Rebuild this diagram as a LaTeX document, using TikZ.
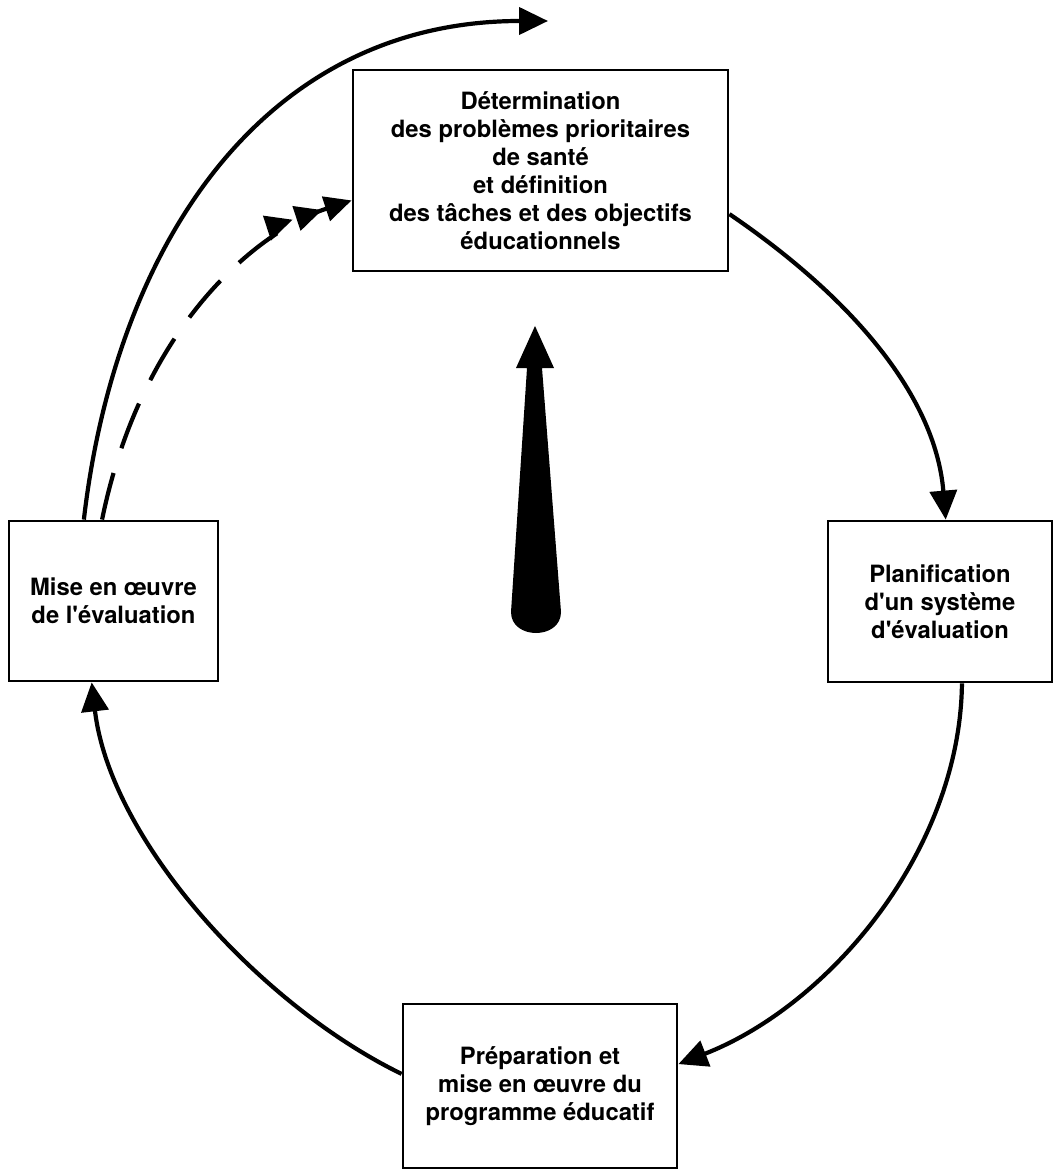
\documentclass[tikz,border=0pt]{standalone}
\usepackage{fontspec}
\newfontfamily\boxfont{TeX Gyre Heros}[Ligatures=TeXOff]
\usetikzlibrary{arrows.meta}

\begin{document}
\begin{tikzpicture}[
    x=0.5pt, y=-0.5pt,
    box/.style={draw, line width=1.4pt, align=center, inner sep=0pt,
        font=\boxfont\bfseries\fontsize{11.9}{14}\selectfont},
    flow/.style={line width=2.1pt, -{Triangle[length=14.5pt,width=13.5pt]}},
    back/.style={line width=2.1pt, dash pattern=on 24pt off 13pt,
        -{Triangle[length=13.5pt,width=12.5pt,sep=2pt]Triangle[length=13.5pt,width=12.5pt,sep=2pt]Triangle[length=13.5pt,width=12.5pt]}}]
    \useasboundingbox (0,0) rectangle (1053,1176);

    % Kaesten
    \node[box, minimum width=187.5pt, minimum height=100.5pt] (top) at (540.5,170.5)
        {Détermination\\ des problèmes prioritaires\\ de santé\\ et définition\\ des tâches et des objectifs\\ éducationnels};
    \node[box, minimum width=112pt, minimum height=80.5pt] (plan) at (940,601.5)
        {Planification\\ d'un système\\ d'évaluation};
    \node[box, minimum width=137pt, minimum height=82pt] (prog) at (540,1086)
        {Préparation et\\ mise en œuvre du\\ programme éducatif};
    \node[box, minimum width=104.5pt, minimum height=80pt] (eval) at (113.5,601)
        {Mise en œuvre\\ de l'évaluation};

    % Kreislauf
    \draw[flow] (top.-13) .. controls (844,292) and (935,391) .. (plan.86);
    \draw[flow] (plan.-75) .. controls (960,850) and (830,1005) .. (prog.9);
    \draw[flow] (prog.175) .. controls (260,1005) and (110,840) .. (eval.-105);

    % Rueckkopplung
    \coordinate (peak) at (548,21);
    \draw[flow] (eval.110) .. controls (115,250) and (260,21) .. (peak);
    \draw[back] (eval.98) .. controls (142,325) and (258,231) .. (top.189);

    % Pfeil in der Mitte
    \fill (535,326) -- (554,368) -- (542,368) -- (561,612)
          .. controls (561,640) and (511,640) .. (511,612)
          -- (527,368) -- (516,368) -- cycle;
\end{tikzpicture}
\end{document}
